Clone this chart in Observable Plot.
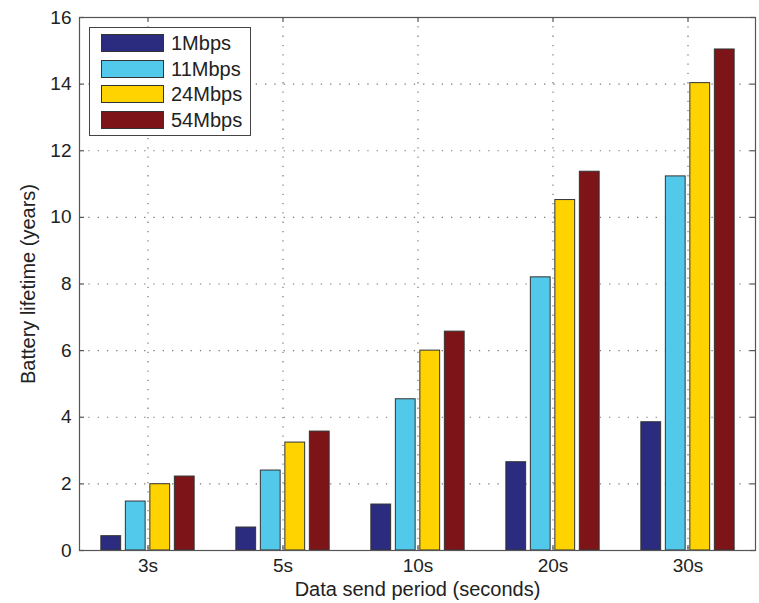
<!DOCTYPE html>
<html><head><meta charset="utf-8">
<script src="https://cdn.jsdelivr.net/npm/d3@7"></script>
<script src="https://cdn.jsdelivr.net/npm/@observablehq/plot@0.6"></script>
<style>
body{margin:0;background:#fff;}
#wrap{position:relative;width:759px;height:603px;font-family:"Liberation Sans",Arial,Helvetica,sans-serif;color:#222;}
#legend{position:absolute;left:89px;top:27px;width:162px;height:109px;border:1px solid #444;background:#fff;box-sizing:border-box;}
.row{position:absolute;left:11px;height:18px;display:flex;align-items:center;}
.sw{width:63px;height:18px;border:1px solid #333;box-sizing:border-box;}
.lab{margin-left:7px;font-size:20px;line-height:18px;}
</style></head>
<body>
<div id="wrap"></div>
<script>
// ---- data ----
const periods = ["3s", "5s", "10s", "20s", "30s"];
const rates = ["1Mbps", "11Mbps", "24Mbps", "54Mbps"];
const life1 = [0.43, 0.69, 1.38, 2.65, 3.85];
const life11 = [1.47, 2.40, 4.54, 8.20, 11.23];
const life24 = [1.99, 3.24, 6.00, 10.52, 14.03];
const life54 = [2.22, 3.57, 6.57, 11.37, 15.04];
const yTicks = [0, 2, 4, 6, 8, 10, 12, 14, 16];
const colors = ["#2b2b80", "#52c9ea", "#ffd300", "#7d1417"];

const series = [life1, life11, life24, life54];

// ---- layout ----
const W = 759, H = 603, mL = 79, mT = 17, mR = 4, mB = 53;
const innerW = W - mL - mR, innerH = H - mT - mB;
const band = innerW / periods.length;
const barW = 20, pitch = 24.5;
const FY = 19, FX = 19, FL = 20;
const dotted = {stroke: "#777", strokeOpacity: 1, strokeWidth: 1.2, strokeDasharray: "1.3,8"};

const barMarks = series.map((vals, j) => {
  const off = (j - 1.5) * pitch;
  const side = (band - barW) / 2;
  return Plot.barY(periods.map((p, i) => ({period: p, rate: rates[j], value: vals[i]})), {
    x: "period", y: "value", fill: colors[j], stroke: "#333", strokeWidth: 1,
    insetLeft: side + off, insetRight: side - off
  });
});

const chart = Plot.plot({
  width: W, height: H,
  marginLeft: mL, marginTop: mT, marginRight: mR, marginBottom: mB,
  style: {fontFamily: "Liberation Sans, Arial, Helvetica, sans-serif", fontSize: FX + "px", color: "#222", background: "#fff"},
  x: {type: "band", domain: periods, padding: 0},
  y: {domain: [0, 16]},
  marks: [
    Plot.ruleY(yTicks.filter(d => d > 0 && d < 16), {y: d => d, ...dotted}),
    Plot.ruleX(periods, {x: d => d, ...dotted}),
    ...barMarks,
    Plot.frame({stroke: "#555", strokeWidth: 1.2}),
    Plot.tickY(yTicks, {y: d => d, insetRight: innerW - 5, stroke: "#555", strokeWidth: 1.2}),
    Plot.tickY(yTicks, {y: d => d, insetLeft: innerW - 5, stroke: "#555", strokeWidth: 1.2}),
    Plot.tickX(periods, {x: d => d, insetBottom: innerH - 5, stroke: "#555", strokeWidth: 1.2}),
    Plot.tickX(periods, {x: d => d, insetTop: innerH - 5, stroke: "#555", strokeWidth: 1.2}),
    Plot.axisY(yTicks, {tickSize: 0, tickPadding: 8, label: null, fontSize: FY, fill: "#222"}),
    Plot.axisX({tickSize: 0, tickPadding: 8, label: null, fontSize: FX, fill: "#222"}),
    Plot.text(["Battery lifetime (years)"], {frameAnchor: "left", textAnchor: "middle", dx: -51, rotate: -90, fontSize: FL, fill: "#222"}),
    Plot.text(["Data send period (seconds)"], {frameAnchor: "bottom", textAnchor: "middle", dy: 45, fontSize: FL, fill: "#222"})
  ]
});

const wrap = document.getElementById("wrap");
wrap.appendChild(chart);

// legend
const legend = document.createElement("div");
legend.id = "legend";
const rowTops = [6, 31.5, 57, 82.5];
rates.forEach((r, j) => {
  const row = document.createElement("div");
  row.className = "row";
  row.style.top = rowTops[j] + "px";
  const sw = document.createElement("div");
  sw.className = "sw";
  sw.style.background = colors[j];
  const lab = document.createElement("span");
  lab.className = "lab";
  lab.textContent = r;
  row.appendChild(sw);
  row.appendChild(lab);
  legend.appendChild(row);
});
wrap.appendChild(legend);
</script>
</body></html>
